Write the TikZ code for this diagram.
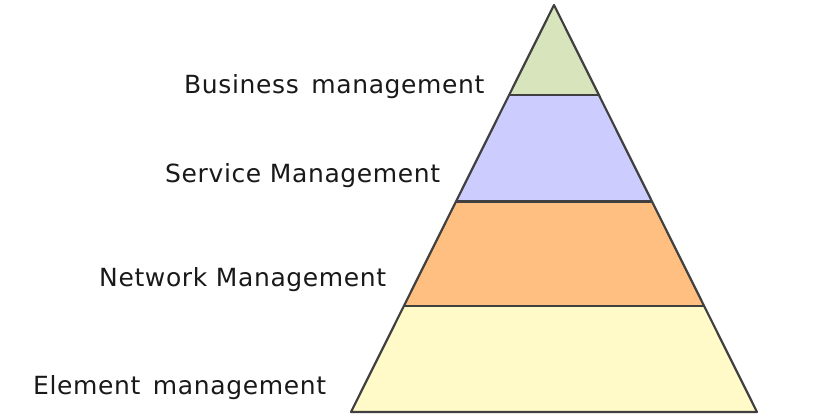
\documentclass[tikz,border=0pt]{standalone}
\usepackage{fontspec}
\setmainfont[LetterSpace=2.5]{DejaVu Sans}
\usetikzlibrary{calc}
\definecolor{bizgreen}{RGB}{215,228,188}
\definecolor{svcblue}{RGB}{204,204,255}
\definecolor{netorange}{RGB}{255,191,128}
\definecolor{elmyellow}{RGB}{255,250,200}
\definecolor{edge}{RGB}{64,64,64}
\begin{document}
\begin{tikzpicture}[x=1pt,y=-1pt,
  layer/.style={draw=edge,line width=2.2pt,line join=round},
  lbl/.style={anchor=base west,inner sep=0pt,font=\fontsize{25}{30}\selectfont,text=black!90}]
\useasboundingbox (0,0) rectangle (817,419);
\coordinate (apex) at (554,5);
\coordinate (bl) at (351,412);
\coordinate (br) at (757,412);
\coordinate (l1) at ($(apex)!0.2206!(bl)$);
\coordinate (r1) at ($(apex)!0.2206!(br)$);
\coordinate (l2) at ($(apex)!0.4828!(bl)$);
\coordinate (r2) at ($(apex)!0.4828!(br)$);
\coordinate (l3) at ($(apex)!0.7402!(bl)$);
\coordinate (r3) at ($(apex)!0.7402!(br)$);
\fill[elmyellow] (l3) -- (r3) -- (br) -- (bl) -- cycle;
\fill[netorange] (l2) -- (r2) -- (r3) -- (l3) -- cycle;
\fill[svcblue] (l1) -- (r1) -- (r2) -- (l2) -- cycle;
\fill[bizgreen] (apex) -- (r1) -- (l1) -- cycle;
\draw[layer] (apex) -- (br) -- (bl) -- cycle;
\draw[layer] (l1) -- (r1);
\draw[layer] (l2) -- (r2);
\draw[layer] (l3) -- (r3);
\node[lbl] (biz) at (184,94) {Business\hspace{4pt} management};
\node[lbl] (svc) at (165,183) {Service Management};
\node[lbl] (net) at (99,287) {Network Management};
\node[lbl] (elm) at (33,395) {Element\hspace{4pt} management};
\end{tikzpicture}
\end{document}
